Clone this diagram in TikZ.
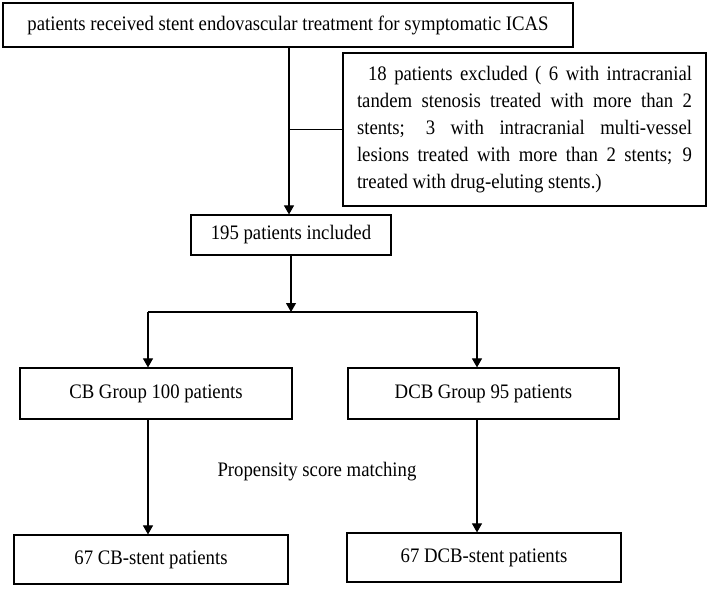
\documentclass[tikz,border=0pt]{standalone}
\usepackage{fontspec}
\setmainfont{Liberation Serif}[FakeStretch=0.91]
\usetikzlibrary{arrows.meta}
\begin{document}
\begin{tikzpicture}[x=1pt,y=-1pt,
  box/.style={draw=black, line width=1.2pt, inner sep=0pt, rectangle, align=center},
  ln/.style={draw=black, line width=1.1pt},
  arr/.style={ln, -{Triangle[length=9pt,width=10pt]}},
  font=\fontsize{20.6}{27}\selectfont]
\useasboundingbox (0,0) rectangle (708,589);
\fill[white] (0,0) rectangle (708,589);

\node[box, minimum width=570pt, minimum height=44pt] (top) at (288,25)
  {patients received stent endovascular treatment for symptomatic ICAS};

\node[box, minimum width=363pt, minimum height=153pt] (excl) at (524.5,129.5)
  {\begin{minipage}{335pt}\baselineskip=27pt\parindent=0pt
   \makebox[335pt][s]{\hspace{11pt}18 patients excluded ( 6 with intracranial}\par
   \makebox[335pt][s]{tandem stenosis treated with more than 2}\par
   \makebox[335pt][s]{stents; 3 with intracranial multi-vessel}\par
   \makebox[335pt][s]{lesions treated with more than 2 stents; 9}\par
   \makebox[335pt][l]{treated with drug-eluting stents.)}
   \end{minipage}};

\node[box, minimum width=200pt, minimum height=40pt] (incl) at (291,235)
  {195 patients included};

\node[box, minimum width=272pt, minimum height=51pt] (cb) at (156,393.5)
  {CB Group 100 patients};
\node[box, minimum width=271pt, minimum height=51pt] (dcb) at (483.5,393.5)
  {DCB Group 95 patients};

\node[inner sep=0pt] (psm) at (317,472) {Propensity score matching};

\node[box, minimum width=274pt, minimum height=49pt] (cbs) at (151,559.5)
  {67 CB-stent patients};
\node[box, minimum width=274pt, minimum height=49pt] (dcbs) at (484,557.5)
  {67 DCB-stent patients};

\coordinate (j1) at (289,129.5);
\coordinate (j2) at (291,312);
\coordinate (bl) at (148,312);
\coordinate (br) at (477,312);

\draw[arr] (top.south -| j1) -- (incl.north -| j1);
\draw[ln] (j1) -- (excl.west);
\draw[arr] (incl.south) -- (j2);
\draw[ln] (bl) -- (br);
\draw[arr] (bl) -- (bl |- cb.north);
\draw[arr] (br) -- (br |- dcb.north);
\draw[arr] (cb.south -| bl) -- (cbs.north -| bl);
\draw[arr] (dcb.south -| br) -- (dcbs.north -| br);
\end{tikzpicture}
\end{document}
